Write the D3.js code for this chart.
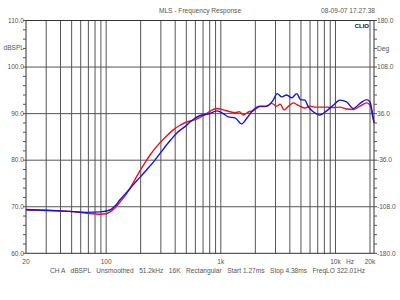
<!DOCTYPE html>
<html><head><meta charset="utf-8">
<script src="https://cdn.jsdelivr.net/npm/d3@7"></script>
<style>body{margin:0;background:#fff}svg{display:block}text{font-family:"Liberation Sans",Arial,sans-serif;fill:#555}</style>
</head><body><svg id="c" width="400" height="300"></svg>
<script>
const redFreq = [20,32,48,68,88,100,108,120,132,161,180,197,220,240,275,330,385,440,503,580,658,752,802,920,1050,1200,1330,1450,1571,1760,1918,2193,2450,2775,3068,3300,3560,3900,4300,4700,5412,5983,6600,7312,8372,9556,10935,12511,14311,16375,18737,19700,20500,21000,21700];
const redDb =   [69.3,69.2,69.0,68.6,68.4,68.5,68.9,69.8,71.0,73.9,76.0,77.7,79.6,81.0,82.9,85.0,86.5,87.5,88.2,88.6,89.2,90.0,90.5,91.1,90.8,90.4,90.2,90.4,89.7,90.4,90.6,91.5,91.5,92.2,91.6,92.0,90.8,91.6,92.3,91.8,91.2,91.6,91.4,91.4,91.4,91.3,91.4,91.0,90.9,91.6,92.3,92.0,91.0,89.5,88.2];
const blueFreq = [20,32,48,68,88,108,120,132,150,172,197,225,260,294,350,412,503,538,658,802,920,1050,1160,1330,1520,1685,1918,2193,2510,2860,3100,3400,3750,4150,4600,4960,5410,5780,6400,7310,8370,9560,10940,12510,14310,16375,18740,20000,20850,21700];
const blueDb =   [69.4,69.2,69.0,68.8,68.9,69.3,70.2,71.5,73.0,74.7,76.3,77.9,79.7,81.4,83.8,85.8,87.5,88.2,89.6,90.0,90.6,90.0,89.3,89.1,87.8,89.0,90.8,91.6,91.6,92.9,94.3,93.6,94.0,93.4,94.3,93.0,92.9,91.5,90.4,89.7,90.6,91.8,92.9,92.5,91.1,92.2,93.0,92.5,90.5,88.0];
const gridFreqs = [30,40,50,60,70,80,90,100,200,300,400,500,600,700,800,900,1000,2000,3000,4000,5000,6000,7000,8000,9000,10000,20000];
const xTickVals = [20,100,1000,10000,20000];
const xTickLabels = ["20","100","1k","10k","20k"];
const dbTicks = [60,70,80,90,100,110];
const degTicks = [-180,-108,-36,36,108,180];

const svg = d3.select("#c");
const L=26, R=374, T=20.5, B=253.3;
const x = d3.scaleLog().domain([20,20000]).range([L,370]);
const y = d3.scaleLinear().domain([60,110]).range([B,T]);
const yDeg = d3.scaleLinear().domain([-180,180]).range([B,T]);

// grid
svg.append("g").selectAll("line").data(gridFreqs).join("line")
  .attr("x1",d=>x(d)).attr("x2",d=>x(d)).attr("y1",T).attr("y2",B)
  .attr("stroke","#555").attr("stroke-width",1);
svg.append("g").selectAll("line").data(dbTicks.slice(1,-1)).join("line")
  .attr("x1",L).attr("x2",R).attr("y1",d=>y(d)).attr("y2",d=>y(d))
  .attr("stroke","#555").attr("stroke-width",1);
svg.append("rect").attr("x",L).attr("y",T).attr("width",R-L).attr("height",B-T)
  .attr("fill","none").attr("stroke","#333").attr("stroke-width",1);

// minor ticks
svg.append("g").selectAll("line").data(d3.range(60,110.1,2)).join("line")
  .attr("x1",L-3).attr("x2",L).attr("y1",d=>y(d)).attr("y2",d=>y(d)).attr("stroke","#555");
svg.append("g").selectAll("line").data(d3.range(-180,180.1,14.4)).join("line")
  .attr("x1",R).attr("x2",R+3).attr("y1",d=>yDeg(d)).attr("y2",d=>yDeg(d)).attr("stroke","#555");

// labels
const fs = 6.6;
svg.append("g").selectAll("text").data(dbTicks).join("text")
  .attr("x",L-2).attr("y",d=>y(d)+2.3).attr("text-anchor","end").attr("font-size",fs)
  .text(d=>d.toFixed(1));
svg.append("g").selectAll("text").data(degTicks).join("text")
  .attr("x",R+3).attr("y",d=>yDeg(d)+2.3).attr("font-size",fs)
  .text(d=>d.toFixed(1));
svg.append("text").attr("x",L-2).attr("y",49.5).attr("text-anchor","end").attr("font-size",fs).text("dBSPL");
svg.append("text").attr("x",R+3).attr("y",50.5).attr("font-size",fs).text("Deg");
svg.append("g").selectAll("text").data(xTickVals).join("text")
  .attr("x",d=>x(d)).attr("y",263.5).attr("text-anchor","middle").attr("font-size",fs)
  .text((d,i)=>xTickLabels[i]);
svg.append("text").attr("x",350).attr("y",263.5).attr("text-anchor","middle").attr("font-size",fs).text("Hz");
svg.append("text").attr("x",200).attr("y",13.3).attr("text-anchor","middle").attr("font-size",fs).text("MLS - Frequency Response");
svg.append("text").attr("x",375).attr("y",13.3).attr("text-anchor","end").attr("font-size",fs).text("08-09-07 17.27.38");
svg.append("text").attr("x",369).attr("y",27.5).attr("text-anchor","end").attr("font-size",6).attr("font-weight","bold").style("fill","#111").text("CLIO");
svg.append("text").attr("x",50).attr("y",273.3).attr("font-size",fs).attr("xml:space","preserve")
  .text("CH A   dBSPL   Unsmoothed   51.2kHz   16K   Rectangular   Start 1.27ms   Stop 4.38ms   FreqLO 322.01Hz");

// curves
const line = d3.line().x(d=>x(d[0])).y(d=>y(d[1])).curve(d3.curveMonotoneX);
svg.append("path").datum(redFreq.map((f,i)=>[f,redDb[i]])).attr("d",line)
  .attr("fill","none").attr("stroke","#e8121a").attr("stroke-width",1.4);
svg.append("path").datum(blueFreq.map((f,i)=>[f,blueDb[i]])).attr("d",line)
  .attr("fill","none").attr("stroke","#1414e0").attr("stroke-width",1.4);
</script></body></html>
